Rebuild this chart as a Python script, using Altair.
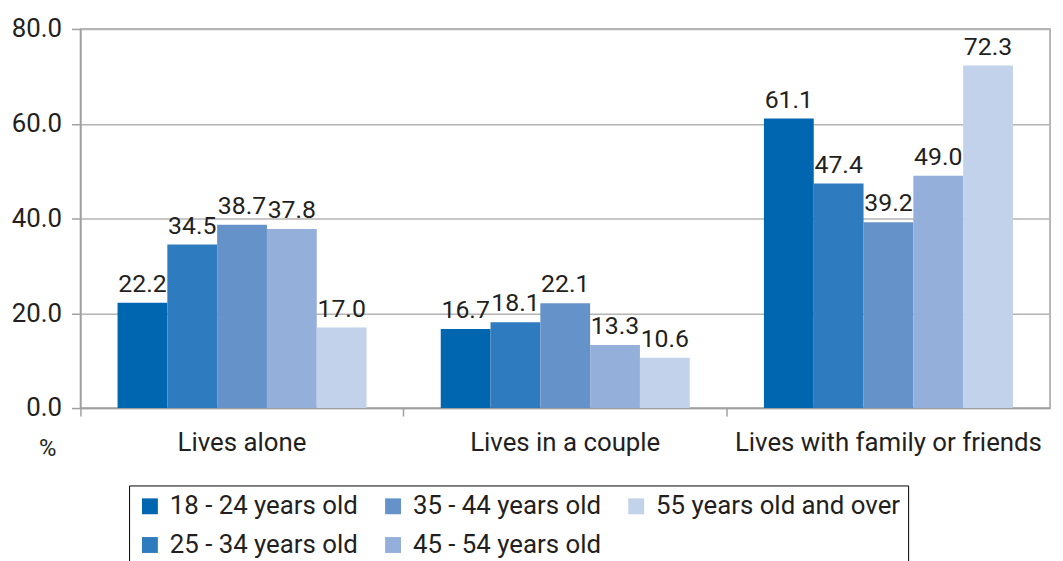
import altair as alt
import pandas as pd

categories = ["Lives alone", "Lives in a couple", "Lives with family or friends"]
age_groups = ["18 - 24 years old", "25 - 34 years old", "35 - 44 years old",
              "45 - 54 years old", "55 years old and over"]
values = {
    "18 - 24 years old": [22.2, 16.7, 61.1],
    "25 - 34 years old": [34.5, 18.1, 47.4],
    "35 - 44 years old": [38.7, 22.1, 39.2],
    "45 - 54 years old": [37.8, 13.3, 49.0],
    "55 years old and over": [17.0, 10.6, 72.3],
}
colors = ["#0066b0", "#2e7bbf", "#6592c8", "#94b0da", "#c3d2eb"]

rows = []
for g in age_groups:
    for c, v in zip(categories, values[g]):
        rows.append({"category": c, "age": g, "value": v})
df = pd.DataFrame(rows)

FONT = "Roboto"
TXT = "#231f20"

x = alt.X("category:N", sort=categories,
          scale=alt.Scale(paddingInner=0, paddingOuter=0),
          axis=alt.Axis(title=None, labelFontSize=26, labelColor=TXT,
                        labelPadding=14, labelLimit=500,
                        domainColor="#a0a0a0", tickColor="#a0a0a0", tickSize=8, tickWidth=1.5,
                        domainWidth=1.5,
                        bandPosition=0, labelAngle=0, grid=False))
xo = alt.XOffset("age:N", sort=age_groups,
                 scale=alt.Scale(paddingInner=0, paddingOuter=0.745))
y = alt.Y("value:Q", scale=alt.Scale(domain=[0, 80]),
          axis=alt.Axis(title=None, values=[0, 20, 40, 60, 80], format=".1f",
                        labelFontSize=26, labelColor=TXT, labelPadding=10,
                        domainColor="#a0a0a0", tickColor="#a0a0a0", tickSize=9, tickWidth=1.5,
                        domainWidth=1.5,
                        gridColor="#b4b4b4", gridWidth=1.5))

bars = alt.Chart(df).mark_bar().encode(
    x=x, xOffset=xo, y=y,
    color=alt.Color("age:N",
                    scale=alt.Scale(domain=age_groups, range=colors),
                    legend=alt.Legend(title=None, orient="none", legendX=49, legendY=460,
                                      direction="vertical",
                                      columns=3, symbolType="square", symbolSize=256,
                                      symbolStrokeWidth=0, labelFontSize=26,
                                      labelColor=TXT, labelOffset=7, rowPadding=13,
                                      columnPadding=22, padding=8,
                                      strokeColor="#000000", fillColor="#ffffff",
                                      labelLimit=400)),
)

labels = alt.Chart(df).mark_text(baseline="bottom", dy=-6, fontSize=25,
                                 color=TXT).encode(
    x=alt.X("category:N", sort=categories), xOffset=alt.XOffset("age:N", sort=age_groups),
    y="value:Q", text=alt.Text("value:Q", format=".1f"),
)

pct = alt.Chart(pd.DataFrame({"t": ["%"]})).mark_text(
    fontSize=24, color=TXT, align="center", baseline="middle").encode(
    x=alt.value(-33), y=alt.value(423), text="t:N")

chart = alt.layer(bars, labels, pct).properties(
    width=977, height=382,
    autosize=alt.AutoSizeParams(type="none"),
    padding={"left": 73, "top": 19, "right": 5, "bottom": 152},
).configure(font=FONT).configure_view(stroke="#a0a0a0", strokeWidth=1.5)

chart.save("out.html", embed_options={"renderer": "svg", "actions": False})
